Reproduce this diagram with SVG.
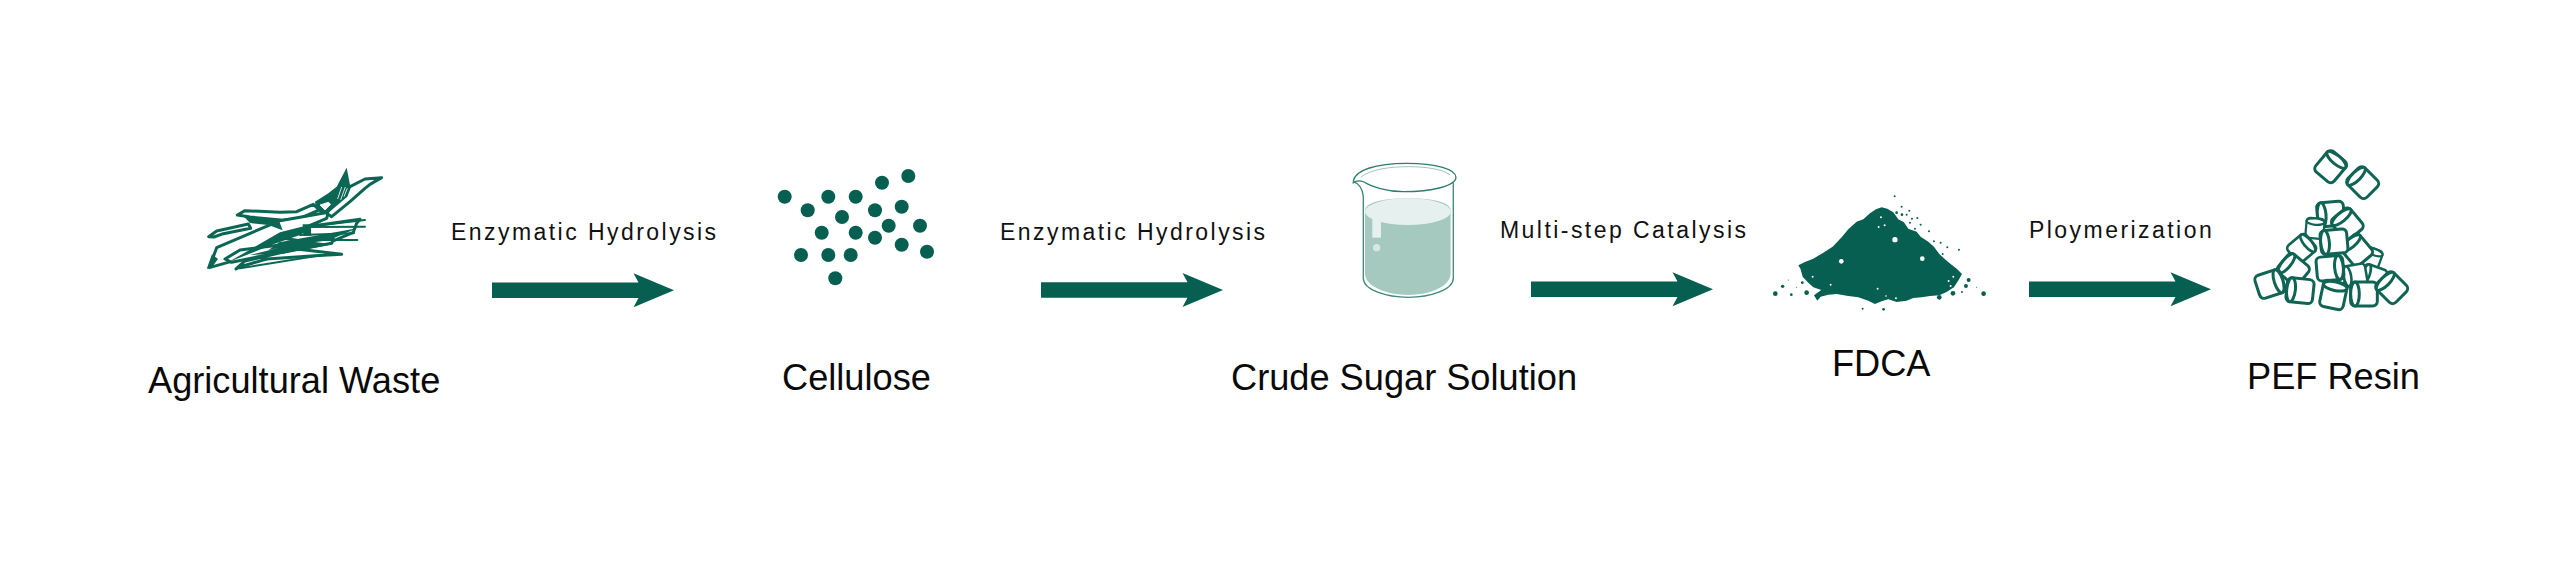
<svg xmlns="http://www.w3.org/2000/svg" xmlns:xlink="http://www.w3.org/1999/xlink" width="2560" height="567" viewBox="0 0 2560 567">
<style>
.name{font:36.200px "Liberation Sans",Arial,sans-serif;fill:#0a0a0a}
.step{font:23px "Liberation Sans",Arial,sans-serif;fill:#111;letter-spacing:2.45px}
.g{fill:#065f50}
.straw{fill:#fff;stroke:#0b6654;stroke-width:9;stroke-linejoin:round}
.ink{fill:#0b6654}
.thin{fill:none;stroke:#0b6654;stroke-width:6;stroke-linecap:round}
.pel{fill:#fff;stroke:#0f6453;stroke-width:9}
</style>
<defs>
<path id="arrow" d="M0-7.700H146.500L141.500-17 182 0 141.500 17 146.500 7.700H0Z"/>
<g id="pellet">
<rect x="-40" y="-36" width="80" height="72" rx="14"/>
<ellipse cx="27" cy="0" rx="13" ry="36"/>
</g>
</defs>
<rect width="2560" height="567" fill="#fff"/>

<g id="connectors" class="g">
<use xlink:href="#arrow" href="#arrow" x="492" y="290.300"/>
<use xlink:href="#arrow" href="#arrow" x="1041" y="290"/>
<use xlink:href="#arrow" href="#arrow" x="1531" y="289.300"/>
<use xlink:href="#arrow" href="#arrow" x="2029" y="289.300"/>
<text class="step" x="451" y="240">Enzymatic Hydrolysis</text>
<text class="step" x="1000" y="240">Enzymatic Hydrolysis</text>
<text class="step" x="1500" y="238">Multi-step Catalysis</text>
<text class="step" x="2029" y="238">Ploymerization</text>
</g>

<g id="agricultural-waste">
<g transform="translate(200 155) scale(.3333)">
<path class="straw" d="M112 180 135 167 240 172 290 170 340 148 358 165 300 190 250 196 150 186Z"/>
<path class="straw" d="M26 245 50 228 145 207 152 220 70 236 42 246Z"/>
<path class="straw" d="M300 218 480 193 470 205 460 232 400 258 330 262 250 250Z"/>
<path class="straw" d="M28 338 50 278 240 197 385 172 380 190 250 245 92 320Z"/>
<path class="straw" d="M75 312 120 285 400 250 395 265 200 300 95 322Z"/>
<path class="straw" d="M108 342 135 318 290 282 425 298 345 302 200 312 122 335Z"/>
<path class="ink" d="M130 183 235 192 248 226 205 210 150 204ZM84 322 240 232 365 200 300 240 220 268ZM238 262 472 220 400 250 300 264 205 286ZM150 300 320 258 398 268 250 296ZM308 208 332 208 334 242 310 242ZM20 342 36 298 54 312 38 334Z"/>
<path class="thin" d="M320 215 495 195M330 216 495 215M400 255 472 255M300 240 462 235M120 340 400 295"/>
<path class="straw" d="M440 100 495 72 545 68 510 88 495 100 450 140 395 185 380 175Z"/>
<path class="ink" d="M345 140 385 115 410 95 440 38 452 100 442 125 395 165 365 178 348 160Z"/>
<path d="M360 150 385 142 392 148 375 165ZM413 132 425 96M422 135 436 96M432 125 442 100" fill="#fff" stroke="#fff" stroke-width="2.500"/>
</g>
<text class="name" x="148" y="393">Agricultural Waste</text>
</g>

<g id="cellulose">
<g class="g">
<circle cx="784.700" cy="196.700" r="7"/><circle cx="807.700" cy="210.300" r="7"/><circle cx="828.300" cy="196.700" r="7"/><circle cx="855.700" cy="196.700" r="7"/><circle cx="882" cy="182.700" r="7"/><circle cx="908.300" cy="176" r="7"/><circle cx="901.700" cy="206.700" r="7"/><circle cx="875" cy="210.300" r="7"/><circle cx="842" cy="217" r="7"/><circle cx="821.700" cy="232.700" r="7"/><circle cx="855.700" cy="232.700" r="7"/><circle cx="888.700" cy="225.700" r="7"/><circle cx="920" cy="225.700" r="7"/><circle cx="875" cy="237.700" r="7"/><circle cx="901.700" cy="244.700" r="7"/><circle cx="927" cy="251.700" r="7"/><circle cx="801" cy="255" r="7"/><circle cx="828.300" cy="255" r="7"/><circle cx="850.700" cy="255" r="7"/><circle cx="835.300" cy="278.300" r="7"/>
</g>
<text class="name" x="782" y="390">Cellulose</text>
</g>

<g id="crude-sugar-solution">
<g transform="translate(1000 140) scale(.3333)">
<path d="M1095 212C1095 185 1160 175 1225 175 1290 175 1352 185 1352 212V400C1352 440 1290 465 1225 465 1160 465 1095 440 1095 400Z" fill="#a5c8bf"/>
<ellipse cx="1224" cy="215" rx="129" ry="40" fill="#e6f1ef"/>
<rect x="1117" y="235" width="26" height="58" fill="#e6f1ef"/>
<circle cx="1130" cy="323" r="11" fill="#d6e8e4"/>
<path d="M1060 125C1075 130 1088 145 1090 170V415C1090 450 1160 472 1225 472 1290 472 1360 450 1360 415V128" fill="none" stroke="#3f8a7b" stroke-width="4"/>
<path d="M1060 128C1060 90 1130 70 1220 70 1310 70 1368 88 1368 112 1368 138 1295 155 1210 155 1160 155 1115 140 1092 126 1082 122 1068 122 1060 128Z" fill="none" stroke="#2f7d6d" stroke-width="4"/>
<path d="M1082 112C1110 88 1170 80 1225 80 1280 80 1330 88 1350 105" fill="none" stroke="#9cc4bb" stroke-width="3"/>
</g>
<text class="name" x="1231" y="390">Crude Sugar Solution</text>
</g>

<g id="fdca">
<g transform="translate(1480 180) scale(.3333)">
<path class="g" d="M1205 82 1222 86 1240 97 1255 118 1272 127 1285 146 1310 155 1322 170 1345 185 1362 200 1378 222 1395 238 1412 252 1432 268 1446 282 1436 300 1422 322 1400 336 1378 346 1350 348 1325 352 1300 354 1280 362 1250 366 1225 358 1205 364 1185 372 1165 362 1135 352 1105 348 1070 342 1045 344 1022 350 1012 362 1002 346 1024 330 1000 322 985 308 968 290 962 268 955 256 975 246 1000 236 1030 218 1058 200 1085 172 1105 148 1130 125 1150 118 1170 100 1188 88Z"/>
<g fill="#fff">
<circle cx="1245" cy="179" r="8"/><circle cx="1084" cy="244" r="7"/><circle cx="1327" cy="236" r="7"/><circle cx="1203" cy="112" r="3"/><circle cx="1196" cy="141" r="3"/><circle cx="1214" cy="136" r="3"/><circle cx="998" cy="290" r="3"/><circle cx="1052" cy="314" r="3"/><circle cx="1193" cy="326" r="3"/><circle cx="1218" cy="348" r="2.500"/><circle cx="1248" cy="355" r="3"/><circle cx="1406" cy="303" r="3"/><circle cx="1420" cy="290" r="3"/><circle cx="1412" cy="318" r="3"/>
</g>
<g class="g">
<circle cx="886" cy="341" r="7"/><circle cx="908" cy="319" r="5"/><circle cx="934" cy="344" r="4"/><circle cx="980" cy="338" r="7"/><circle cx="967" cy="308" r="4"/><circle cx="1148" cy="386" r="3"/><circle cx="1211" cy="388" r="4"/><circle cx="1378" cy="352" r="7"/><circle cx="1419" cy="340" r="7"/><circle cx="1458" cy="318" r="6"/><circle cx="1466" cy="300" r="6"/><circle cx="1511" cy="341" r="7"/><circle cx="1446" cy="336" r="3"/><circle cx="1490" cy="322" r="1.500"/><circle cx="925" cy="300" r="1.500"/><circle cx="950" cy="322" r="1.500"/>
<circle cx="1244" cy="49" r="3"/><circle cx="1265" cy="80" r="3"/><circle cx="1288" cy="92" r="3"/><circle cx="1250" cy="98" r="4"/><circle cx="1266" cy="104" r="4"/><circle cx="1280" cy="104" r="3"/><circle cx="1296" cy="116" r="3"/><circle cx="1312" cy="114" r="3"/><circle cx="1290" cy="128" r="3"/><circle cx="1322" cy="134" r="3"/><circle cx="1305" cy="146" r="3"/><circle cx="1347" cy="154" r="3"/><circle cx="1362" cy="184" r="3"/><circle cx="1382" cy="188" r="3"/><circle cx="1402" cy="202" r="3"/><circle cx="1437" cy="209" r="3"/><circle cx="1388" cy="222" r="3"/>
</g>
</g>
<text class="name" x="1832" y="376">FDCA</text>
</g>

<g id="pef-resin">
<g class="pel" transform="translate(2240 140) scale(.3333)">
<use href="#pellet" transform="translate(272 80) rotate(-50)"/>
<use href="#pellet" transform="translate(368 128) rotate(-135)"/>
<use href="#pellet" transform="translate(272 222) rotate(175)"/>
<use href="#pellet" transform="translate(225 265) rotate(-85) scale(.75)"/>
<use href="#pellet" transform="translate(322 252) rotate(-130)"/>
<use href="#pellet" transform="translate(395 355) rotate(-70) scale(.75)"/>
<use href="#pellet" transform="translate(185 325) rotate(-40) scale(.9)"/>
<use href="#pellet" transform="translate(350 330) rotate(-130)"/>
<use href="#pellet" transform="translate(282 305) rotate(175)"/>
<use href="#pellet" transform="translate(400 412) rotate(-160) scale(.9)"/>
<use href="#pellet" transform="translate(160 388) rotate(-140)"/>
<use href="#pellet" transform="translate(345 405) rotate(170) scale(.85)"/>
<use href="#pellet" transform="translate(270 385) rotate(-5)"/>
<use href="#pellet" transform="translate(90 432) rotate(-18)"/>
<use href="#pellet" transform="translate(180 452) rotate(186)"/>
<use href="#pellet" transform="translate(280 465) rotate(-78)"/>
<use href="#pellet" transform="translate(372 462) rotate(180)"/>
<use href="#pellet" transform="translate(455 443) rotate(-135)"/>
</g>
<text class="name" x="2247" y="389">PEF Resin</text>
</g>
</svg>
